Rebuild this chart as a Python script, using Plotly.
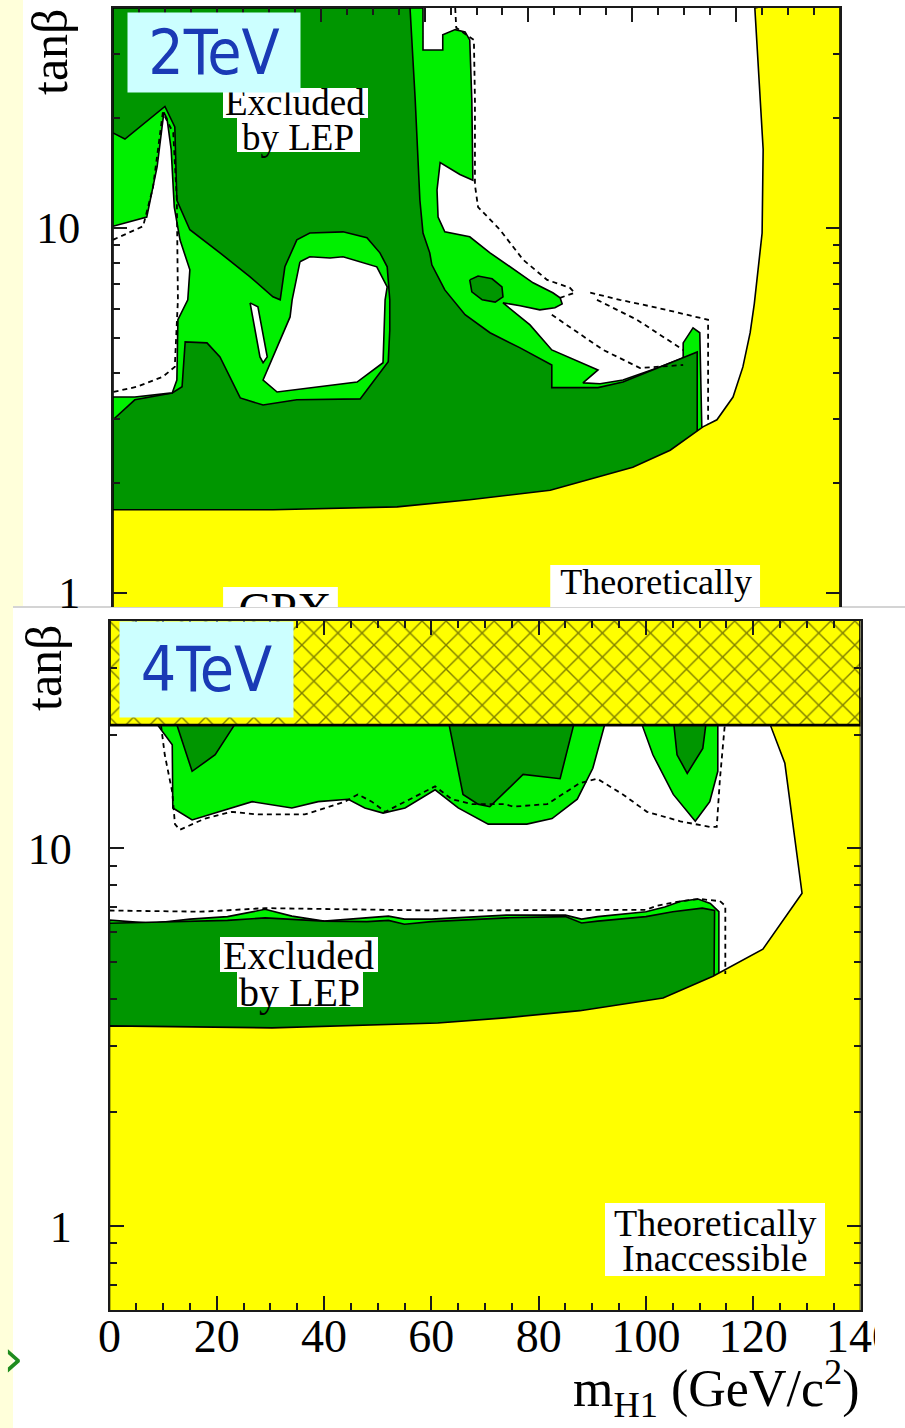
import math
import plotly.graph_objects as go

# ---------------------------------------------------------------
# CPX scenario: excluded regions in the (m_H1, tan beta) plane
# every contour is a list of (m_H1 [GeV/c^2], tan beta) vertices
# ---------------------------------------------------------------

# ---- panel 1 : 2 TeV ----
theo_2tev = [(0, 1.69), (30.8, 1.69), (54.7, 1.72), (68.7, 1.80), (84.2, 1.91), (100.1, 2.21),
             (107.3, 2.46), (113.6, 2.85), (116.3, 2.98), (119.4, 3.44), (121.3, 4.16),
             (122.7, 5.16), (123.5, 6.2), (125.0, 9.68), (125.2, 16.4), (124.6, 22.4), (123.6, 40)]

lep95_2tev = [(0, 40), (59.7, 40), (59.7, 30.7), (63.5, 30.7), (63.5, 33.8), (65.9, 34.9),
              (67.8, 34.4), (68.7, 32.7), (69.1, 22.4), (69.3, 13.5), (66.8, 14.0), (63.0, 15.1),
              (62.4, 12.7), (62.6, 10.7), (63.9, 9.75), (68.7, 9.45), (72.6, 8.54), (76.4, 7.82),
              (80.9, 7.07), (84.7, 6.64), (86.1, 6.43), (86.5, 6.19), (85.1, 6.04), (82.2, 5.96),
              (78.4, 6.12), (75.1, 6.23), (80.3, 5.42), (84.5, 4.63), (89.5, 4.30), (93.4, 4.08),
              (90.5, 3.76), (93.8, 3.74), (98.2, 3.83), (104.8, 4.13), (109.8, 4.40), (109.8, 4.84),
              (111.7, 5.32), (113.0, 5.16), (113.4, 2.80), (113.4, 1.5), (0, 1.5)]

lep99_2tev = [(0, 40), (57.2, 40), (58.2, 22.4), (59.1, 11.9), (59.7, 9.68), (61.0, 8.54),
              (61.4, 7.92), (63.9, 6.76), (67.8, 5.78), (72.6, 5.16), (78.4, 4.69), (84.5, 4.21),
              (84.5, 3.65), (93.4, 3.65), (98.2, 3.78), (104.8, 4.13), (109.8, 4.40), (112.5, 4.57),
              (112.5, 1.5), (0, 1.5), (0, 2.98), (4.2, 3.38), (11.4, 3.53), (13.3, 3.67),
              (13.9, 4.87), (18.1, 4.84), (20.6, 4.43), (24.5, 3.42), (28.9, 3.27), (35.4, 3.38),
              (47.6, 3.40), (53.0, 4.30), (53.3, 5.25), (53.3, 6.35), (52.8, 7.82), (51.4, 8.54),
              (48.9, 9.39), (44.3, 9.75), (37.9, 9.68), (35.4, 9.27), (33.1, 7.82), (32.2, 6.35),
              (30.8, 6.47), (26.4, 7.34), (20.6, 8.54), (14.8, 9.88), (12.3, 11.9), (11.9, 18.9),
              (10.0, 21.5), (2.3, 17.5), (0, 18.2)]

lep99_island_2tev = [(68.7, 7.20), (70.3, 7.38), (73.0, 7.25), (74.9, 6.89), (75.1, 6.47),
                     (73.6, 6.26), (71.1, 6.35), (69.1, 6.68)]

allowed_left_2tev = [(0, 10.1), (6.5, 10.7), (8.5, 14.7), (9.8, 20.7), (10.4, 19.9), (11.2, 16.4),
                     (11.8, 11.4), (12.9, 9.27), (14.8, 7.67), (14.4, 6.35), (12.5, 5.60),
                     (12.3, 3.83), (11.4, 3.53), (4.2, 3.44), (0, 3.44)]

allowed_mid_2tev = [(36.0, 8.07), (37.9, 8.33), (41.8, 8.27), (44.3, 8.33), (50.8, 7.82),
                    (52.8, 6.89), (52.4, 6.35), (52.0, 4.27), (47.0, 3.78), (31.6, 3.55),
                    (28.9, 3.83), (34.1, 5.70), (34.5, 6.35)]

allowed_sliver_2tev = [(26.4, 6.23), (27.9, 6.08), (29.7, 4.43), (28.9, 4.27), (28.3, 4.43), (27.0, 5.60)]

expected_2tev_a = [(0, 9.27), (5.8, 10.1), (7.7, 12.9), (9.6, 20.7), (11.6, 18.2), (12.3, 11.9),
                   (12.5, 6.35), (11.9, 4.16), (9.6, 3.91), (4.6, 3.67), (0, 3.55)]
expected_2tev_b = [(65.9, 40), (66.1, 35.3), (69.5, 32.7), (69.7, 22.4), (69.7, 13.1), (70.3, 11.4),
                   (74.5, 9.88), (79.0, 8.17), (83.6, 7.20), (88.0, 6.85), (88.9, 6.64), (86.1, 6.43)]
expected_2tev_c = [(91.9, 6.64), (97.6, 6.35), (104.8, 6.04), (114.6, 5.60), (114.6, 2.9)]
expected_2tev_d = [(84.5, 5.78), (94.4, 4.63), (101.5, 4.13), (109.8, 4.21)]
expected_2tev_e = [(93.2, 6.35), (100.9, 5.60), (109.8, 4.63)]

# ---- panel 2 : 4 TeV ----
theo_4tev = [(0, 3.39), (30.3, 3.35), (61.2, 3.45), (73.7, 3.56), (87.7, 3.72), (103.2, 4.02),
             (112.5, 4.59), (121.8, 5.41), (129.1, 7.61), (125.9, 16.8), (123.2, 21.2), (122.8, 25)]

lep95_4tev_low = [(0, 6.46), (8, 6.34), (15, 6.5), (22, 6.6), (29, 6.9), (34, 6.62), (40, 6.42),
                  (52, 6.62), (55, 6.5), (60, 6.5), (74, 6.66), (85, 6.66), (88, 6.5), (91, 6.6),
                  (100, 6.8), (103.5, 7.0), (106.5, 7.25), (109.7, 7.35), (112, 7.15), (113.6, 6.8),
                  (113.6, 3.0), (0, 3.0)]
lep99_4tev_low = [(0, 6.34), (15, 6.4), (22, 6.45), (29, 6.55), (34, 6.5), (40, 6.42), (48, 6.4),
                  (52, 6.45), (55, 6.3), (60, 6.4), (74, 6.55), (85, 6.6), (88, 6.35), (91, 6.42),
                  (100, 6.6), (105, 6.8), (110.5, 6.95), (112.8, 6.85), (112.6, 3.0), (0, 3.0)]

lep95_4tev_up1 = [(8.8, 22), (9.0, 21.2), (11.7, 18.8), (11.8, 12.8), (15.4, 11.9), (22.8, 12.8),
                  (26.6, 13.3), (34.0, 12.8), (38.9, 13.3), (44.5, 13.5), (47.6, 12.8), (51.0, 12.4),
                  (55.1, 12.8), (60.7, 14.3), (65.0, 12.8), (70.6, 11.6), (73.7, 11.6), (77.8, 11.6),
                  (82.5, 12.0), (87.2, 13.5), (90.1, 16.3), (92.4, 21.2), (92.6, 22)]
lep95_4tev_up2 = [(99.1, 22), (99.3, 21.2), (101.3, 17.7), (105.1, 13.9), (109.2, 11.8),
                  (111.9, 13.3), (113.4, 16.0), (113.4, 22)]
lep99_4tev_up1 = [(12.2, 22), (15.4, 16.0), (19.7, 17.7), (24.0, 22)]
lep99_4tev_up2 = [(63.1, 22), (65.9, 13.9), (68.7, 13.1), (70.9, 12.9), (77.1, 15.7), (84.0, 15.3), (86.8, 22)]
lep99_4tev_up3 = [(105.1, 22), (105.8, 17.7), (107.7, 15.8), (110.6, 18.4), (111.3, 22)]

expected_4tev_up = [(9.6, 21.2), (10.3, 17.7), (11.7, 14.1), (12.2, 11.6), (13.1, 11.2), (17.8, 12.0),
                    (22.8, 12.5), (27.7, 12.3), (36.4, 12.3), (43.9, 13.3), (46.3, 13.9), (48.9, 13.3),
                    (51.4, 12.5), (55.1, 13.3), (60.7, 14.6), (63.8, 13.5), (67.6, 13.1), (73.7, 13.1),
                    (75.2, 12.9), (81.6, 13.1), (87.7, 14.9), (90.9, 15.3), (95.7, 13.9), (100.2, 12.5),
                    (106.4, 11.8), (111.9, 11.4), (113.2, 11.4), (113.8, 15.3), (114.7, 21.2)]
expected_4tev_low = [(0, 6.85), (17, 6.8), (29, 6.95), (60, 6.85), (100, 6.88), (102, 7.05),
                     (106.5, 7.25), (110, 7.35), (113.8, 7.25), (114.8, 7.05), (114.8, 4.65)]

# tan beta above this value is not covered by the 4 TeV scan
tb_scan_limit_4tev = 21.2

# axis ticks
x_major = [0, 20, 40, 60, 80, 100, 120, 140]
y_major = [1, 10]
y_minor = [0.6, 0.7, 0.8, 0.9, 2, 3, 4, 5, 6, 7, 8, 9, 20, 30]

# ---------------------------------------------------------------
YELLOW = "#FFFF00"
DARK = "#009600"
LIGHT = "#00F000"
SERIF = "Liberation Serif, Times New Roman, serif"
W, H = 905, 1428

fig = go.Figure()


def region(pts, xa, ya, color, width=1.6):
    xs = [p[0] for p in pts] + [pts[0][0]]
    ys = [p[1] for p in pts] + [pts[0][1]]
    fig.add_trace(go.Scatter(x=xs, y=ys, mode="lines", fill="toself", fillcolor=color,
                             line=dict(color="black", width=width), xaxis=xa, yaxis=ya,
                             hoverinfo="skip", showlegend=False))


def dashed(pts, xa, ya):
    fig.add_trace(go.Scatter(x=[p[0] for p in pts], y=[p[1] for p in pts], mode="lines",
                             line=dict(color="black", width=1.8, dash="5px,4px"),
                             xaxis=xa, yaxis=ya, hoverinfo="skip", showlegend=False))


def closed_below(curve, top_right, bottom=0.3, right=140):
    # polygon of the area below/right of a boundary curve
    return list(curve) + [(right, top_right), (right, bottom), (0, bottom)]


# ---------------- 2 TeV panel ----------------
region(lep95_2tev, "x", "y", LIGHT)
region(lep99_2tev, "x", "y", DARK)
region(lep99_island_2tev, "x", "y", DARK)
region(allowed_left_2tev, "x", "y", "white")
region(allowed_mid_2tev, "x", "y", "white")
region(allowed_sliver_2tev, "x", "y", "white")
region(closed_below(theo_2tev, 45), "x", "y", YELLOW)
for line in (expected_2tev_a, expected_2tev_b, expected_2tev_c, expected_2tev_d, expected_2tev_e):
    dashed(line, "x", "y")

# label boxes that run into the lower edge of the panel (clipped with the data)
for (x0, x1, y1) in ((21.2, 43.3, 1.038), (84.2, 124.6, 1.193)):
    fig.add_trace(go.Scatter(x=[x0, x1, x1, x0, x0], y=[0.5, 0.5, y1, y1, 0.5], mode="lines",
                             fill="toself", fillcolor="white", line=dict(width=0),
                             xaxis="x", yaxis="y", hoverinfo="skip", showlegend=False))
fig.add_trace(go.Scatter(x=[33.1], y=[0.876], mode="text", text=["CPX"],
                         textfont=dict(family=SERIF, size=48, color="black"),
                         textposition="middle center", xaxis="x", yaxis="y",
                         hoverinfo="skip", showlegend=False, cliponaxis=True))
fig.add_trace(go.Scatter(x=[104.6], y=[1.048], mode="text", text=["Theoretically"],
                         textfont=dict(family=SERIF, size=36, color="black"),
                         textposition="middle center", xaxis="x", yaxis="y",
                         hoverinfo="skip", showlegend=False, cliponaxis=True))

# ---------------- 4 TeV panel ----------------
region(lep95_4tev_low, "x2", "y2", LIGHT)
region(lep99_4tev_low, "x2", "y2", DARK)
region(lep95_4tev_up1, "x2", "y2", LIGHT)
region(lep95_4tev_up2, "x2", "y2", LIGHT)
region(lep99_4tev_up1, "x2", "y2", DARK)
region(lep99_4tev_up2, "x2", "y2", DARK)
region(lep99_4tev_up3, "x2", "y2", DARK)
region(closed_below(theo_4tev, 25), "x2", "y2", YELLOW)
dashed(expected_4tev_up, "x2", "y2")
dashed(expected_4tev_low, "x2", "y2")
# hatched band: region outside the scan
fig.add_trace(go.Scatter(x=[0, 140, 140, 0, 0],
                         y=[tb_scan_limit_4tev, tb_scan_limit_4tev, 60, 60, tb_scan_limit_4tev],
                         mode="lines", fill="toself", fillcolor=YELLOW,
                         fillpattern=dict(shape="x", bgcolor=YELLOW, fgcolor="#000000",
                                          size=17, solidity=0.16),
                         line=dict(color="black", width=2.6), xaxis="x2", yaxis="y2",
                         hoverinfo="skip", showlegend=False))

# ---------------- axes ----------------
frame = dict(showline=True, linecolor="#1a1a1a", linewidth=2, showgrid=False, zeroline=False,
             ticks="inside", ticklen=14, tickwidth=2, tickcolor="#1a1a1a", automargin=False)
xminor = dict(dtick=5, ticks="inside", ticklen=7, tickwidth=2, tickcolor="#1a1a1a")
yminor = dict(tickvals=y_minor, ticks="inside", ticklen=7, tickwidth=2, tickcolor="#1a1a1a")

fig.update_layout(
    width=W, height=H, autosize=False,
    margin=dict(l=0, r=0, t=0, b=0, pad=0, autoexpand=False),
    paper_bgcolor="#FFFFDA", plot_bgcolor="white", showlegend=False,
    xaxis=dict(domain=[113 / W, 840 / W], range=[0, 140], side="top", anchor="y",
               tickvals=x_major, showticklabels=False, minor=xminor, **frame),
    yaxis=dict(domain=[1 - 607 / H, 1 - 8 / H], type="log",
               range=[math.log10(0.915), math.log10(40)], anchor="x", mirror="ticks",
               tickvals=y_major, ticktext=[str(v) for v in y_major],
               tickfont=dict(family=SERIF, size=44, color="black"), ticklabelstandoff=22,
               minor=yminor, **frame),
    xaxis2=dict(domain=[109.5 / W, 860.5 / W], range=[0, 140], anchor="y2", mirror="ticks",
                tickvals=x_major, ticktext=[str(v) for v in x_major],
                tickfont=dict(family=SERIF, size=46, color="black"), ticklabelstandoff=-15,
                minor=xminor, **frame),
    yaxis2=dict(domain=[1 - 1310 / H, 1 - 621 / H], type="log",
                range=[math.log10(0.6), math.log10(40)], anchor="x2", mirror="ticks",
                tickvals=y_major, ticktext=[str(v) for v in y_major],
                tickfont=dict(family=SERIF, size=44, color="black"), ticklabelstandoff=27,
                minor=yminor, **frame),
)


def px_rect(x0, x1, y0, y1, color, layer):
    # rectangle given in page pixels (top-left origin)
    fig.add_shape(type="rect", xref="paper", yref="paper", x0=x0 / W, x1=x1 / W,
                  y0=1 - y1 / H, y1=1 - y0 / H, fillcolor=color, line=dict(width=0), layer=layer)


# page: two pasted figures on a pale slide background
px_rect(23, W, 0, 607, "white", "below")
px_rect(13, W, 607, H, "white", "below")
fig.add_shape(type="line", xref="paper", yref="paper", x0=13 / W, x1=1, y0=1 - 607 / H,
              y1=1 - 607 / H, line=dict(color="#D4D4D4", width=2), layer="below")
# the lower figure is cropped just after the last tick label
px_rect(875, W, 1313, 1366, "white", "above")

# white label boxes
px_rect(223, 368, 88, 118, "white", "above")
px_rect(237, 360, 118, 152, "white", "above")
px_rect(220, 378, 937, 972, "white", "above")
px_rect(237, 363, 972, 1007, "white", "above")
px_rect(605, 825, 1203, 1276, "white", "above")

ann = []
# axis titles
for xc, yc in ((50, 52), (44, 668)):
    ann.append(dict(text="tanβ", xref="paper", yref="paper", x=xc / W, y=1 - yc / H,
                    xanchor="center", yanchor="middle", textangle=-90, showarrow=False,
                    font=dict(family=SERIF, size=50, color="black")))
ann.append(dict(text="m<sub>H1</sub> (GeV/c<sup>2</sup>)", xref="paper", yref="paper",
                x=862 / W, y=1 - 1427 / H, xanchor="right", yanchor="bottom", showarrow=False,
                font=dict(family=SERIF, size=52, color="black")))


# labels inside the panels
def label(text, xref, yref, m, tb, size):
    ann.append(dict(text=text, xref=xref, yref=yref, x=m, y=math.log10(tb), showarrow=False,
                    font=dict(family=SERIF, size=size, color="black"),
                    xanchor="center", yanchor="middle"))


label("Excluded", "x", "y", 35.1, 22.0, 37)
label("by LEP", "x", "y", 35.7, 17.7, 37)
label("Excluded", "x2", "y2", 35.3, 5.21, 40)
label("by LEP", "x2", "y2", 35.5, 4.15, 40)
label("Theoretically", "x2", "y2", 112.9, 1.02, 38)
label("Inaccessible", "x2", "y2", 112.9, 0.826, 38)

# energy tags
for txt, xc, yc, w, h in (("2TeV", 214, 52.5, 172, 79), ("4TeV", 206.5, 669, 173, 95)):
    ann.append(dict(text=txt, xref="paper", yref="paper", x=xc / W, y=1 - yc / H,
                    xanchor="center", yanchor="middle", showarrow=False, width=w, height=h,
                    bgcolor="#CCFFFF", borderpad=0,
                    font=dict(family="Liberation Sans Narrow, DejaVu Sans Condensed, sans-serif",
                              size=62, color="#1A3AB5")))
ann.append(dict(text="›", xref="paper", yref="paper", x=13 / W, y=1 - 1358 / H,
                xanchor="center", yanchor="middle", showarrow=False,
                font=dict(family="DejaVu Sans", size=52, color="#1E8C1E")))

fig.update_layout(annotations=ann)
fig.write_html("out.html")
